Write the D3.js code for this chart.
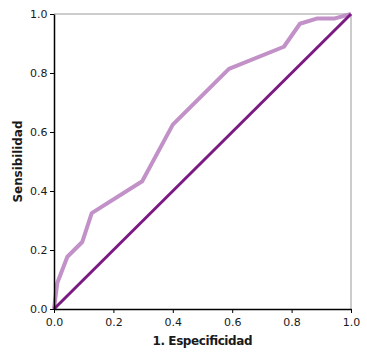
<!DOCTYPE html>
<html>
<head>
<meta charset="utf-8">
<script src="https://cdn.jsdelivr.net/npm/d3@7"></script>
<style>
  body { margin: 0; background: #fff; }
  text { font-family: "DejaVu Sans", Verdana, sans-serif; }
</style>
</head>
<body>
<svg id="chart"></svg>
<script>
"use strict";

// ROC curve
const fpr = [0, 0.011, 0.045, 0.095, 0.127, 0.297, 0.40, 0.589, 0.774, 0.828, 0.887, 0.946, 1];
const tpr = [0, 0.088, 0.177, 0.227, 0.325, 0.433, 0.625, 0.814, 0.889, 0.967, 0.985, 0.985, 1];
const diagonal = [0, 1];
const ticks = [0, 0.2, 0.4, 0.6, 0.8, 1.0];

const width = 367, height = 358;
const margin = {top: 14, right: 16, bottom: 49, left: 54};

const svg = d3.select('#chart')
    .attr('width', width)
    .attr('height', height);

const x = d3.scaleLinear().domain([0, 1]).range([margin.left, width - margin.right]);
const y = d3.scaleLinear().domain([0, 1]).range([height - margin.bottom, margin.top]);

// top / right frame (gray)
svg.append('path')
    .attr('d', `M${x(0)},${y(1)}H${x(1)}V${y(0)}`)
    .attr('fill', 'none')
    .attr('stroke', '#999')
    .attr('stroke-width', 1);

const line = d3.line().x(d => x(d[0])).y(d => y(d[1]));

// ROC curve
svg.append('path')
    .datum(fpr.map((v, i) => [v, tpr[i]]))
    .attr('d', line)
    .attr('fill', 'none')
    .attr('stroke', '#c291c8')
    .attr('stroke-width', 4)
    .attr('stroke-linejoin', 'round');

// reference line
svg.append('path')
    .datum(diagonal.map(v => [v, v]))
    .attr('d', line)
    .attr('fill', 'none')
    .attr('stroke', '#7b1a82')
    .attr('stroke-width', 3);

const fmt = d3.format('.1f');

const xAxis = svg.append('g')
    .attr('transform', `translate(0,${y(0)})`)
    .call(d3.axisBottom(x).tickValues(ticks).tickFormat(fmt).tickSize(4).tickSizeOuter(0));

const yAxis = svg.append('g')
    .attr('transform', `translate(${x(0)},0)`)
    .call(d3.axisLeft(y).tickValues(ticks).tickFormat(fmt).tickSize(4).tickSizeOuter(0));

[xAxis, yAxis].forEach(a => {
    a.select('.domain').attr('stroke', '#000').attr('stroke-width', 1.5);
    a.selectAll('.tick line').attr('stroke', '#000');
    a.selectAll('.tick text')
        .attr('font-family', '"DejaVu Sans", Verdana, sans-serif')
        .attr('font-size', 11)
        .attr('fill', '#1a1a1a');
});
xAxis.selectAll('.tick text').attr('dy', '0.9em');
yAxis.selectAll('.tick text').attr('dx', '0.05em');

// axis titles
svg.append('text')
    .attr('x', (x(0) + x(1)) / 2)
    .attr('y', 345)
    .attr('text-anchor', 'middle')
    .attr('font-family', 'Lato, "Open Sans", sans-serif')
    .attr('font-size', 12)
    .attr('font-weight', 'bold')
    .attr('textLength', 100)
    .attr('lengthAdjust', 'spacing')
    .attr('fill', '#1a1a1a')
    .text('1. Especificidad');

svg.append('text')
    .attr('transform', `translate(22,${(y(0) + y(1)) / 2}) rotate(-90)`)
    .attr('text-anchor', 'middle')
    .attr('font-family', 'Lato, "Open Sans", sans-serif')
    .attr('font-size', 12)
    .attr('font-weight', 'bold')
    .attr('textLength', 82)
    .attr('lengthAdjust', 'spacing')
    .attr('fill', '#1a1a1a')
    .text('Sensibilidad');
</script>
</body>
</html>
